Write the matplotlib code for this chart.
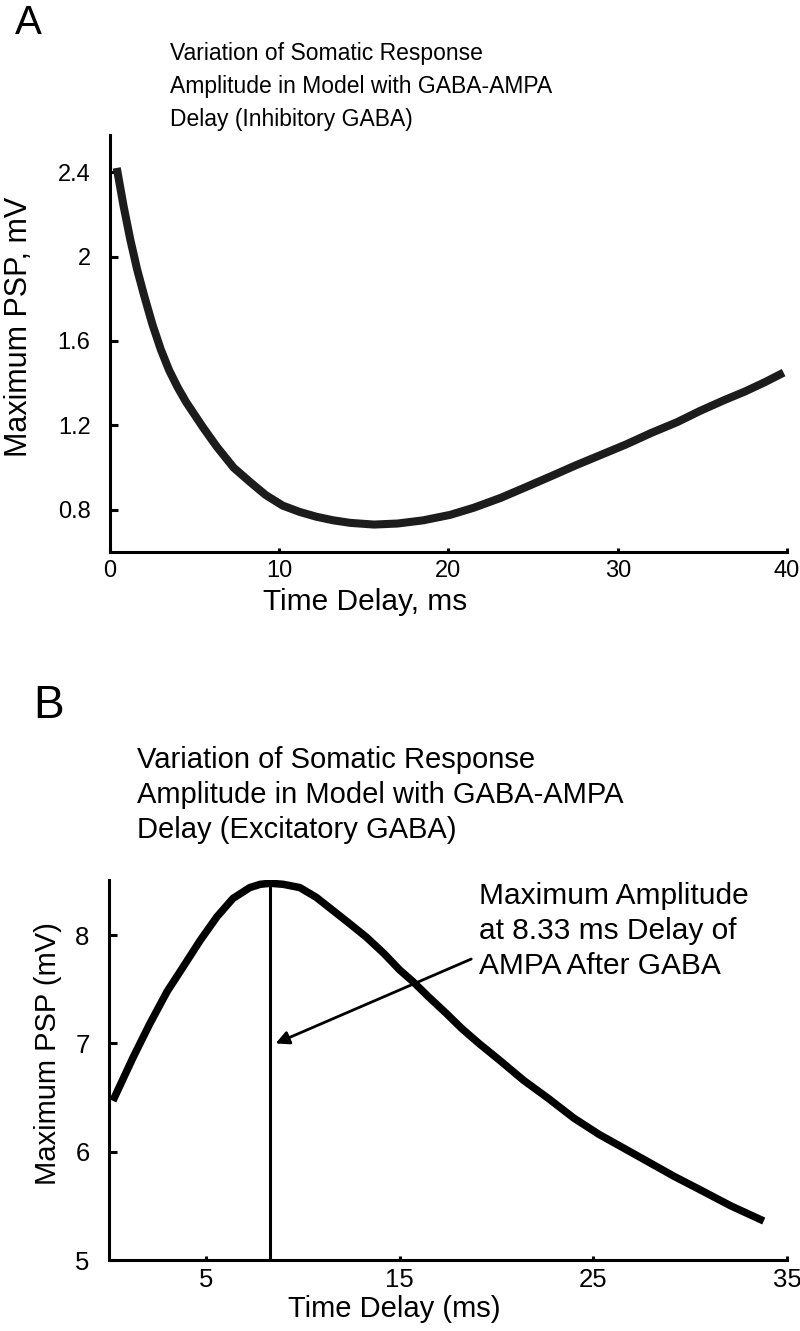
import numpy as np
import matplotlib
matplotlib.use('Agg')
import matplotlib.pyplot as plt

plt.rcParams['font.family'] = ['Liberation Sans', 'DejaVu Sans']

# ---- panel A: inhibitory GABA ----
delay_a = [0.4, 0.8, 1.2, 1.6, 2.0, 2.5, 3.0, 3.5, 4.0, 4.5, 5.0, 5.5, 6.3, 7.3,
           8.3, 9.2, 10.2, 11.2, 12.2, 13.2, 14.2, 15.6, 17.0, 18.5, 20.1, 21.5,
           23.1, 24.5, 26.0, 27.5, 29.0, 30.5, 32.0, 33.5, 34.9, 36.3, 37.5,
           38.7, 39.8]
psp_a = [2.42, 2.24, 2.08, 1.94, 1.82, 1.68, 1.56, 1.46, 1.38, 1.31, 1.25, 1.19,
         1.10, 1.00, 0.93, 0.87, 0.82, 0.79, 0.767, 0.75, 0.738, 0.73, 0.735,
         0.75, 0.776, 0.81, 0.857, 0.905, 0.957, 1.01, 1.06, 1.11, 1.165, 1.215,
         1.27, 1.32, 1.36, 1.405, 1.45]

# ---- panel B: excitatory GABA ----
delay_b = [0.2, 1.24, 2.1, 3.0, 3.8, 4.7, 5.57, 6.4, 7.27, 7.8, 8.33, 9.0, 9.85,
           10.7, 11.55, 12.4, 13.3, 14.2, 15.0, 15.7, 16.5, 17.4, 18.2, 19.1,
           20.2, 21.4, 22.7, 24.0, 25.3, 26.6, 27.9, 29.2, 30.5, 32.1, 33.8]
psp_b = [6.47, 6.87, 7.18, 7.48, 7.70, 7.95, 8.17, 8.34, 8.44, 8.47, 8.48, 8.47,
         8.44, 8.35, 8.23, 8.11, 7.98, 7.83, 7.68, 7.57, 7.43, 7.28, 7.14, 7.0,
         6.84, 6.66, 6.49, 6.31, 6.16, 6.03, 5.90, 5.77, 5.65, 5.50, 5.36]
peak_delay = 8.33
peak_psp = 8.48

fig = plt.figure(figsize=(8, 13.31), dpi=100)
W, H = 800, 1331


def px_axes(l, t, r, b):
    return fig.add_axes([l / W, 1 - b / H, (r - l) / W, (b - t) / H])


def style(ax, fs):
    ax.spines['top'].set_visible(False)
    ax.spines['right'].set_visible(False)
    for s in ('left', 'bottom'):
        ax.spines[s].set_linewidth(2.2)
    ax.tick_params(axis='y', direction='in', length=6, width=2.2,
                   labelsize=fs, pad=14)
    ax.tick_params(axis='x', direction='in', length=3, width=2.2,
                   labelsize=fs, pad=6)


# ====== A ======
ax1 = px_axes(110, 135, 787, 552)
ax1.plot(delay_a, psp_a, color='#1c1c1c', lw=5.8, solid_capstyle='butt')
ax1.set_xlim(0, 40)
ax1.set_ylim(0.6, 2.576)
ax1.set_xticks([0, 10, 20, 30, 40])
ax1.set_yticks([0.8, 1.2, 1.6, 2.0, 2.4])
ax1.set_yticklabels(['0.8', '1.2', '1.6', '2', '2.4'])
style(ax1, 17)
ax1.set_xlabel('Time Delay, ms', fontsize=21.5)
ax1.xaxis.set_label_coords(0.377, -0.086)
ax1.set_ylabel('Maximum PSP, mV', fontsize=22)
ax1.yaxis.set_label_coords(-0.112, 0.54)

fig.text(15 / W, 1 - 4 / H, 'A', fontsize=29, va='top', ha='left')
fig.text(170 / W, 1 - 42 / H,
         'Variation of Somatic Response\nAmplitude in Model with GABA-AMPA\nDelay (Inhibitory GABA)',
         fontsize=16.5, va='top', ha='left', linespacing=1.55)

# ====== B ======
ax2 = px_axes(109, 880, 787, 1260)
ax2.plot(delay_b, psp_b, color='black', lw=5.4, solid_capstyle='butt')
ax2.vlines(peak_delay, 5, peak_psp, color='black', lw=2.2)
ax2.set_xlim(0, 35)
ax2.set_ylim(5, 8.51)
ax2.set_xticks([5, 15, 25, 35])
ax2.set_yticks([5, 6, 7, 8])
style(ax2, 18.5)
ax2.set_xlabel('Time Delay (ms)', fontsize=21)
ax2.xaxis.set_label_coords(0.42, -0.092)
ax2.set_ylabel('Maximum PSP (mV)', fontsize=21)
ax2.yaxis.set_label_coords(-0.07, 0.542)

ax2.annotate('', xy=(8.6, 7.0), xytext=(18.7, 7.78),
             arrowprops=dict(arrowstyle='-|>', lw=2, color='black',
                             mutation_scale=20, shrinkA=0, shrinkB=0))
ax2.text(19.1, 8.49, 'Maximum Amplitude\nat 8.33 ms Delay of\nAMPA After GABA',
         fontsize=21.5, va='top', ha='left', linespacing=1.32, clip_on=False)

fig.text(33 / W, 1 - 684 / H, 'B', fontsize=33, va='top', ha='left')
fig.text(137 / W, 1 - 746 / H,
         'Variation of Somatic Response\nAmplitude in Model with GABA-AMPA\nDelay (Excitatory GABA)',
         fontsize=21, va='top', ha='left', linespacing=1.32)

fig.savefig('out.png', dpi=100)
